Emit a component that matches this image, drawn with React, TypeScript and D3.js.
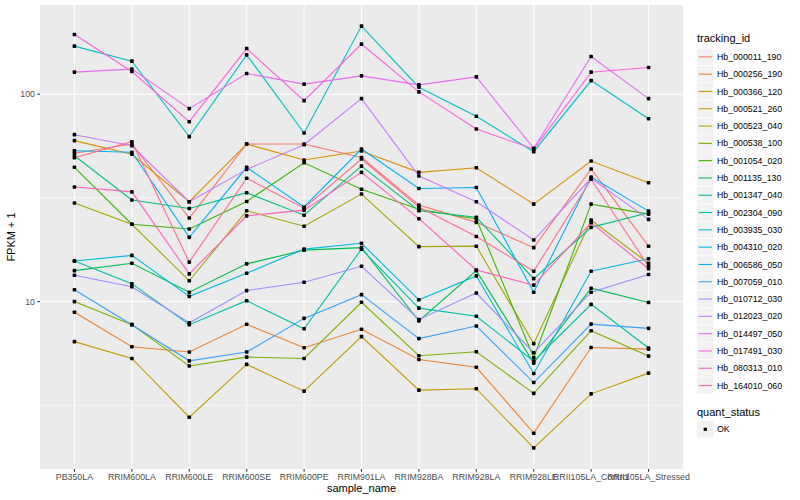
import { useEffect, useRef } from 'react';
import * as d3 from 'd3';

const samples = [
  'PB350LA', 'RRIM600LA', 'RRIM600LE', 'RRIM600SE', 'RRIM600PE', 'RRIM901LA',
  'RRIM928BA', 'RRIM928LA', 'RRIM928LE', 'RRII105LA_Control', 'RRII105LA_Stressed',
];

const trackingIds = [
  'Hb_000011_190', 'Hb_000256_190', 'Hb_000366_120', 'Hb_000521_260', 'Hb_000523_040',
  'Hb_000538_100', 'Hb_001054_020', 'Hb_001135_130', 'Hb_001347_040', 'Hb_002304_090',
  'Hb_003935_030', 'Hb_004310_020', 'Hb_006586_050', 'Hb_007059_010', 'Hb_010712_030',
  'Hb_012023_020', 'Hb_014497_050', 'Hb_017491_030', 'Hb_080313_010', 'Hb_164010_060',
];

// ggplot hue palette, 20 levels
const palette = [
  '#F8766D', '#EA8331', '#D89000', '#C09B00', '#A3A500', '#7CAE00', '#39B600', '#00BB4E',
  '#00BF7D', '#00C1A3', '#00BFC4', '#00BAE0', '#00B0F6', '#35A2FF', '#9590FF', '#C77CFF',
  '#E76BF3', '#FA62DB', '#FF62BC', '#FF6C91',
];

// FPKM + 1 per sample
const hb000011_190 = [51.9, 57.5, 25.3, 57.5, 57.5, 49.5, 29.2, 24.1, 18.2, 43.6, 18.5];
const hb000256_190 = [8.88, 6.06, 5.71, 7.77, 5.99, 7.35, 5.26, 4.82, 2.32, 6.01, 5.9];
const hb000366_120 = [59.7, 51.3, 30.3, 57.5, 48.2, 53.2, 42, 44.2, 29.5, 47.6, 37.4];
const hb000521_260 = [6.41, 5.32, 2.77, 4.98, 3.7, 6.78, 3.74, 3.8, 1.97, 3.59, 4.52];
const hb000523_040 = [29.9, 23.6, 12.6, 27.4, 23.1, 33, 18.4, 18.5, 6.27, 24.7, 15.3];
const hb000538_100 = [10, 7.74, 4.89, 5.4, 5.32, 9.92, 5.48, 5.73, 3.61, 7.24, 5.46];
const hb001054_020 = [44.4, 23.6, 22.4, 30.4, 46.7, 34.8, 27.9, 25, 5.36, 29.5, 26.4];
const hb001135_130 = [14.1, 15.3, 11.1, 15.2, 17.7, 18.2, 8.06, 14.1, 5.05, 11.6, 9.9];
const hb001347_040 = [50.5, 30.9, 28.1, 33.5, 26.1, 45, 27.4, 25.5, 12.9, 22.8, 26.8];
const hb002304_090 = [15.7, 12.2, 7.74, 10.1, 7.4, 17.9, 9.3, 8.5, 5.16, 9.7, 5.97];
const hb003935_030 = [170.5, 144.3, 62.4, 154.8, 65, 213, 108.1, 78.3, 52.8, 116.3, 76.2];
const hb004310_020 = [15.7, 16.7, 10.6, 13.7, 17.9, 19.1, 10.2, 13.3, 4.5, 14, 16.1];
const hb006586_050 = [53.4, 52.5, 20.4, 44.4, 28.6, 54.4, 35.1, 35.5, 11.1, 39.9, 27.3];
const hb007059_010 = [11.4, 7.74, 5.18, 5.71, 8.3, 10.8, 6.63, 7.62, 4.07, 7.79, 7.43];
const hb010712_030 = [13.4, 11.8, 7.9, 11.3, 12.4, 14.8, 8.2, 11, 5.67, 11.1, 13.5];
const hb012023_020 = [63.8, 56.4, 30.3, 43.4, 57.1, 95.2, 40.3, 30.3, 19.8, 39.3, 24.9];
const hb014497_050 = [127.7, 132.1, 85.2, 125.8, 111.8, 122.6, 110.9, 121.2, 54.8, 151.9, 95.2];
const hb017491_030 = [194, 128.6, 73.7, 166, 93.1, 174.4, 102.6, 68, 54.4, 127.7, 134.4];
const hb080313_010 = [35.7, 33.8, 13.6, 25.9, 27.6, 42, 25.1, 14.2, 12, 24, 14.4];
const hb164010_060 = [49.4, 59, 15.5, 39.3, 28.2, 48.7, 28.6, 20.6, 14, 38.9, 14.8];

const seriesValues = [
  hb000011_190, hb000256_190, hb000366_120, hb000521_260, hb000523_040,
  hb000538_100, hb001054_020, hb001135_130, hb001347_040, hb002304_090,
  hb003935_030, hb004310_020, hb006586_050, hb007059_010, hb010712_030,
  hb012023_020, hb014497_050, hb017491_030, hb080313_010, hb164010_060,
];

const yMajor = [1, 10, 100, 1000];
const yMinor = [Math.sqrt(10), Math.sqrt(1000)];

const FONT = "'Liberation Sans', Arial, Helvetica, sans-serif";

export default function App() {
  const svgRef = useRef<SVGSVGElement>(null);

  useEffect(() => {
    if (!svgRef.current) return;
    const svg = d3.select(svgRef.current);
    svg.selectAll('*').remove();

    const panel = { left: 40, right: 683, top: 5, bottom: 469 };

    const x = d3
      .scalePoint<string>()
      .domain(samples)
      .range([panel.left, panel.right])
      .padding(0.6);

    // log10 scale with ggplot's 5% expansion
    const all = seriesValues.flat();
    const lo = Math.log10(d3.min(all) as number);
    const hi = Math.log10(d3.max(all) as number);
    const pad = (hi - lo) * 0.05;
    const y = d3
      .scaleLog()
      .domain([Math.pow(10, lo - pad), Math.pow(10, hi + pad)])
      .range([panel.bottom, panel.top]);

    // Panel
    svg.append('rect')
      .attr('x', panel.left)
      .attr('y', panel.top)
      .attr('width', panel.right - panel.left)
      .attr('height', panel.bottom - panel.top)
      .attr('fill', '#EBEBEB');

    const inY = (v: number) => v >= y.domain()[0] && v <= y.domain()[1];

    // Grid
    svg.append('g')
      .selectAll('line')
      .data(yMinor.filter(inY))
      .enter()
      .append('line')
      .attr('x1', panel.left)
      .attr('x2', panel.right)
      .attr('y1', (d) => y(d))
      .attr('y2', (d) => y(d))
      .attr('stroke', '#fff')
      .attr('stroke-width', 0.53);

    svg.append('g')
      .selectAll('line')
      .data(yMajor.filter(inY))
      .enter()
      .append('line')
      .attr('x1', panel.left)
      .attr('x2', panel.right)
      .attr('y1', (d) => y(d))
      .attr('y2', (d) => y(d))
      .attr('stroke', '#fff')
      .attr('stroke-width', 1.07);

    svg.append('g')
      .selectAll('line')
      .data(samples)
      .enter()
      .append('line')
      .attr('x1', (d) => x(d) as number)
      .attr('x2', (d) => x(d) as number)
      .attr('y1', panel.top)
      .attr('y2', panel.bottom)
      .attr('stroke', '#fff')
      .attr('stroke-width', 1.07);

    // Lines
    const line = d3
      .line<number>()
      .x((_, i) => x(samples[i]) as number)
      .y((d) => y(d));

    svg.append('g')
      .selectAll('path')
      .data(seriesValues)
      .enter()
      .append('path')
      .attr('d', (d) => line(d))
      .attr('fill', 'none')
      .attr('stroke', (_, i) => palette[i])
      .attr('stroke-width', 1.1);

    // Points (quant_status = OK)
    const pts = seriesValues.flatMap((vals) => vals.map((v, i) => ({ s: samples[i], v })));
    svg.append('g')
      .selectAll('rect')
      .data(pts)
      .enter()
      .append('rect')
      .attr('x', (d) => (x(d.s) as number) - 1.8)
      .attr('y', (d) => y(d.v) - 1.8)
      .attr('width', 3.6)
      .attr('height', 3.6)
      .attr('rx', 0.8)
      .attr('fill', '#000');

    // Y axis
    const yTicks = yMajor.filter(inY);
    const ya = svg.append('g');
    ya.selectAll('line')
      .data(yTicks)
      .enter()
      .append('line')
      .attr('x1', panel.left - 2.7)
      .attr('x2', panel.left)
      .attr('y1', (d) => y(d))
      .attr('y2', (d) => y(d))
      .attr('stroke', '#333')
      .attr('stroke-width', 1.07);
    ya.selectAll('text')
      .data(yTicks)
      .enter()
      .append('text')
      .attr('x', panel.left - 5)
      .attr('y', (d) => y(d))
      .attr('dy', '0.35em')
      .attr('text-anchor', 'end')
      .attr('font-family', FONT)
      .attr('font-size', 8.8)
      .attr('fill', '#4D4D4D')
      .text((d) => d3.format('d')(d));

    // X axis
    const xa = svg.append('g');
    xa.selectAll('line')
      .data(samples)
      .enter()
      .append('line')
      .attr('x1', (d) => x(d) as number)
      .attr('x2', (d) => x(d) as number)
      .attr('y1', panel.bottom)
      .attr('y2', panel.bottom + 2.7)
      .attr('stroke', '#333')
      .attr('stroke-width', 1.07);
    xa.selectAll('text')
      .data(samples)
      .enter()
      .append('text')
      .attr('x', (d) => x(d) as number)
      .attr('y', panel.bottom + 11)
      .attr('text-anchor', 'middle')
      .attr('font-family', FONT)
      .attr('font-size', 8.8)
      .attr('fill', '#4D4D4D')
      .text((d) => d);

    // Axis titles
    svg.append('text')
      .attr('x', (panel.left + panel.right) / 2)
      .attr('y', 492)
      .attr('text-anchor', 'middle')
      .attr('font-family', FONT)
      .attr('font-size', 11)
      .attr('fill', '#000')
      .text('sample_name');

    svg.append('text')
      .attr('transform', `translate(15,${(panel.top + panel.bottom) / 2}) rotate(-90)`)
      .attr('text-anchor', 'middle')
      .attr('font-family', FONT)
      .attr('font-size', 11)
      .attr('fill', '#000')
      .text('FPKM + 1');

    // Legend: tracking_id
    const lg = svg.append('g').attr('transform', 'translate(697,0)');
    lg.append('text')
      .attr('x', 0)
      .attr('y', 42)
      .attr('font-family', FONT)
      .attr('font-size', 11)
      .attr('fill', '#000')
      .text('tracking_id');

    const keyH = 17.3;
    const key = lg
      .selectAll('g.key')
      .data(trackingIds)
      .enter()
      .append('g')
      .attr('class', 'key')
      .attr('transform', (_, i) => `translate(0,${48.6 + i * keyH})`);
    key.append('rect')
      .attr('width', 16.5)
      .attr('height', 16.5)
      .attr('fill', '#F2F2F2');
    key.append('line')
      .attr('x1', 1.7)
      .attr('x2', 14.8)
      .attr('y1', 8.25)
      .attr('y2', 8.25)
      .attr('stroke', (_, i) => palette[i])
      .attr('stroke-width', 1.1);
    key.append('text')
      .attr('x', 20)
      .attr('y', 8.25)
      .attr('dy', '0.35em')
      .attr('font-family', FONT)
      .attr('font-size', 8.8)
      .attr('fill', '#000')
      .text((d) => d);

    // Legend: quant_status
    lg.append('text')
      .attr('x', 0)
      .attr('y', 416)
      .attr('font-family', FONT)
      .attr('font-size', 11)
      .attr('fill', '#000')
      .text('quant_status');
    const ok = lg.append('g').attr('transform', 'translate(0,421)');
    ok.append('rect').attr('width', 16.5).attr('height', 16.5).attr('fill', '#F2F2F2');
    ok.append('rect')
      .attr('x', 6.7)
      .attr('y', 6.7)
      .attr('width', 3.2)
      .attr('height', 3.2)
      .attr('fill', '#000');
    ok.append('text')
      .attr('x', 20)
      .attr('y', 8.25)
      .attr('dy', '0.35em')
      .attr('font-family', FONT)
      .attr('font-size', 8.8)
      .attr('fill', '#000')
      .text('OK');
  }, []);

  return (
    <svg
      ref={svgRef}
      width={800}
      height={500}
      style={{ position: 'absolute', left: 0, top: 0, background: '#fff' }}
    />
  );
}
